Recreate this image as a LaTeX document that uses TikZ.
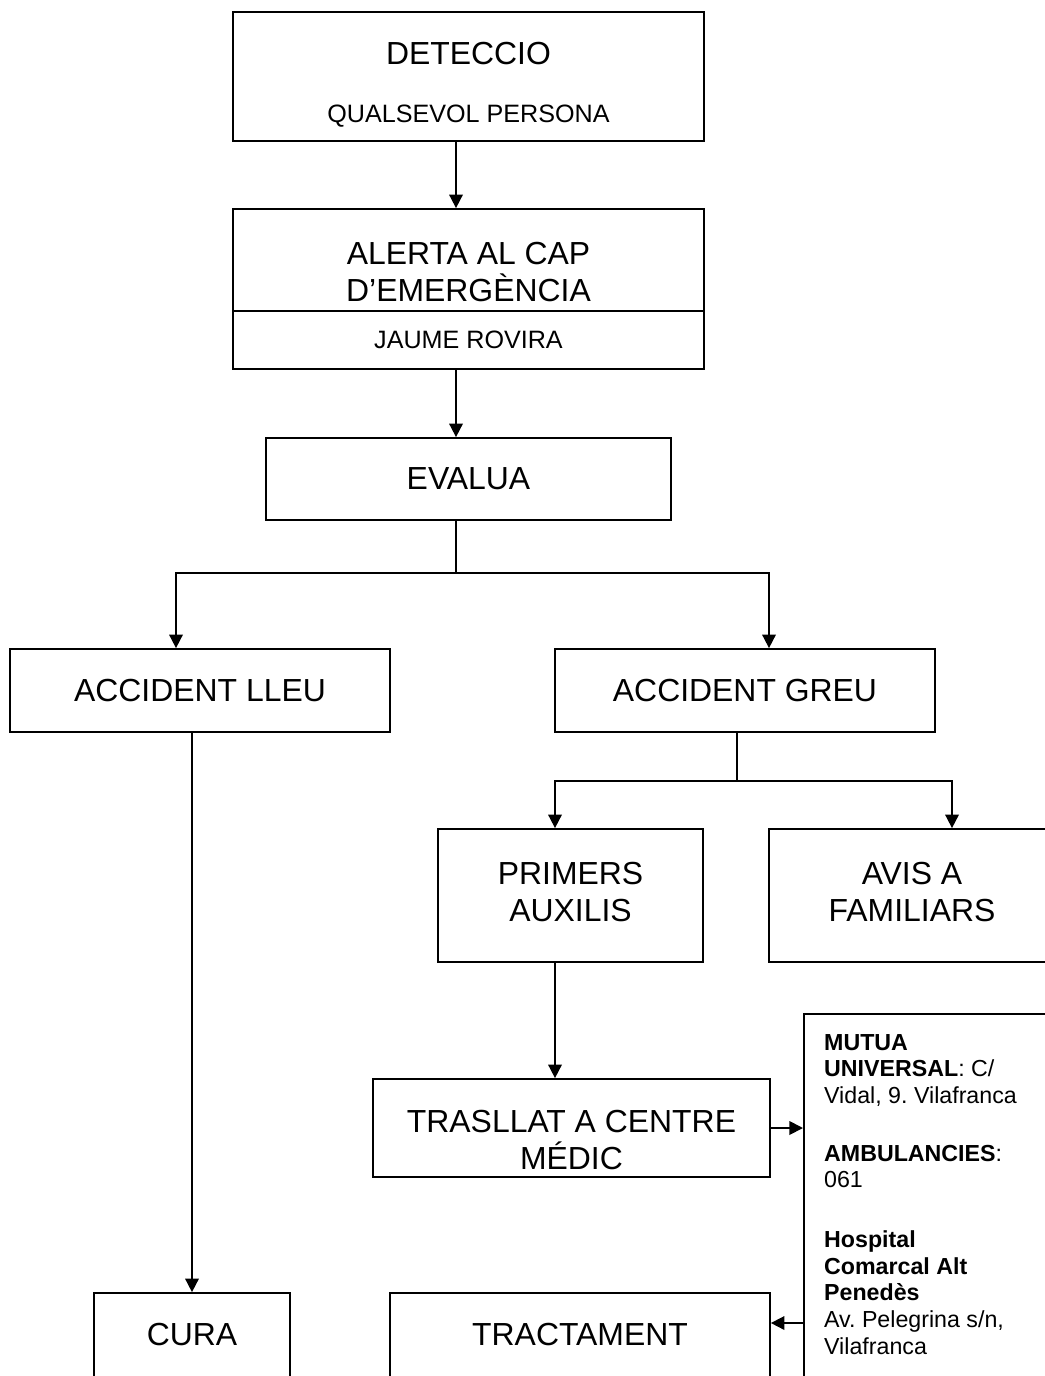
\documentclass[tikz,border=0pt]{standalone}
\usepackage{fontspec}
\setmainfont{Liberation Sans}
\usetikzlibrary{positioning,arrows.meta}

\newdimen\pxu
\pxu=0.5172pt

\tikzset{
  box/.style={draw, line width=0.9pt, inner sep=0pt, align=center,
    font=\fontsize{16.5}{19}\selectfont},
  wh/.style 2 args={minimum width=#1*\pxu, minimum height=#2*\pxu},
  arr/.style={-{Triangle[length=7pt,width=7pt]}, line width=0.9pt},
  lne/.style={line width=0.9pt},
}
\newcommand{\smalltxt}{\fontsize{13}{15}\selectfont}
\newcommand{\infotxt}{\fontsize{12}{13.8}\selectfont\frenchspacing}
\newcommand{\padtop}[1]{\rule{0pt}{#1}}
\newcommand{\padbot}[1]{\rule[-#1]{0pt}{0pt}}

\begin{document}
\begin{tikzpicture}[x=\pxu, y=-\pxu]
  \useasboundingbox (0,0) rectangle (1044,1376);

  % boxes
  \node[box, wh={471}{129}] (det) at (468.5,76.5)
    {\padtop{20.1pt}DETECCIO\\[10.7pt]{\smalltxt QUALSEVOL PERSONA}};
  \node[box, wh={471}{102}] (alert) at (468.5,260)
    {\padtop{24.2pt}ALERTA AL CAP\\D’EMERGÈNCIA};
  \node[box, wh={471}{58}, font=\smalltxt] (who) at (468.5,340) {JAUME ROVIRA};
  \node[box, wh={405}{82}] (eval) at (468.5,479) {EVALUA};
  \node[box, wh={380}{83}] (lleu) at (200,690.5) {ACCIDENT LLEU};
  \node[box, wh={380}{83}] (greu) at (745,690.5) {ACCIDENT GREU};
  \node[box, wh={265}{133}] (prim) at (570.5,895.5) {PRIMERS\\AUXILIS\padbot{4.1pt}};
  \node[box, wh={286}{133}] (avis) at (912,895.5) {AVIS A\\FAMILIARS\padbot{4.1pt}};
  \node[box, wh={397}{98}] (trans) at (571.5,1128)
    {\padtop{24.2pt}TRASLLAT A CENTRE\\MÉDIC};
  \node[box, wh={196}{84}] (cura) at (192,1335) {CURA};
  \node[box, wh={380}{84}] (tract) at (580,1335) {TRACTAMENT};
  \node[box, anchor=north west, align=flush left, font=\infotxt, inner sep=10.5pt,
        text width=125pt] (info) at (803,1013)
    {\textbf{MUTUA}\\ \textbf{UNIVERSAL}: C/\\ Vidal, 9. Vilafranca\\[16pt]
     \textbf{AMBULANCIES}:\\ 061\\[17pt]
     \textbf{Hospital}\\ \textbf{Comarcal Alt}\\ \textbf{Penedès}\\
     Av. Pelegrina s/n,\\ Vilafranca\padbot{30pt}};

  % where the arrows run
  \coordinate (spine) at (456,0);
  \coordinate (fork1) at (456,573);
  \coordinate (xlleu) at (176,0);
  \coordinate (xgreu) at (769,0);
  \coordinate (fork2) at (737,781);
  \coordinate (xprim) at (555,0);
  \coordinate (xavis) at (952,0);
  \coordinate (ytract) at (0,1323);

  \draw[arr] (det.south -| spine) -- (alert.north -| spine);
  \draw[arr] (who.south -| spine) -- (eval.north -| spine);
  \draw[lne] (eval.south -| spine) -- (fork1);
  \draw[arr] (fork1) -| (lleu.north -| xlleu);
  \draw[arr] (fork1) -| (greu.north -| xgreu);
  \draw[arr] (lleu.south -| cura.north) -- (cura.north);
  \draw[lne] (greu.south -| fork2) -- (fork2);
  \draw[arr] (fork2) -| (prim.north -| xprim);
  \draw[arr] (fork2) -| (avis.north -| xavis);
  \draw[arr] (prim.south -| xprim) -- (trans.north -| xprim);
  \draw[arr] (trans.east) -- (trans.east -| info.west);
  \draw[arr] (info.west |- ytract) -- (tract.east |- ytract);
\end{tikzpicture}
\end{document}
